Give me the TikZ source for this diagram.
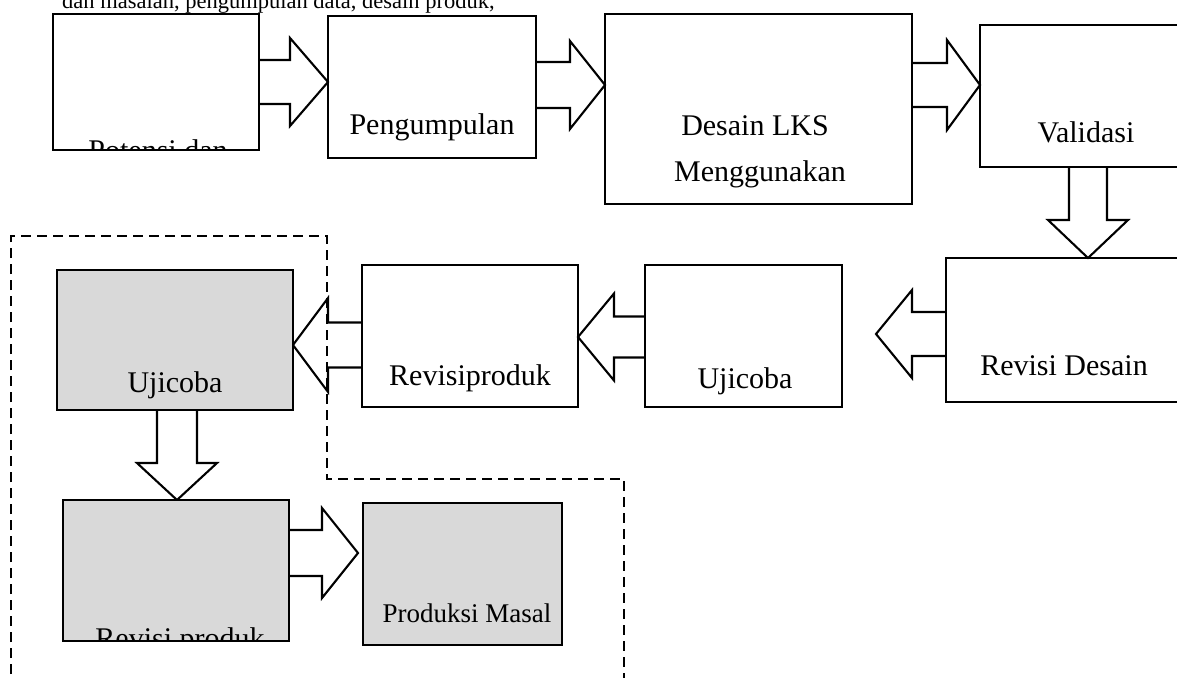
\documentclass[tikz,border=0pt]{standalone}
\usepackage{fontspec}
\setmainfont{Liberation Serif}
\usetikzlibrary{calc,backgrounds}
\definecolor{boxgrey}{HTML}{D9D9D9}
\newcommand\blockarrow[5]{% #1 start, #2 tip, #3 shaft half, #4 head half, #5 head length
  \coordinate (hb) at ($(#2)!#5pt!(#1)$);
  \draw[blk] ($(#1)!#3pt!90:(#2)$) -- ($(hb)!#3pt!90:(#2)$) -- ($(hb)!#4pt!90:(#2)$)
    -- (#2) -- ($(hb)!#4pt!-90:(#2)$) -- ($(hb)!#3pt!-90:(#2)$) -- ($(#1)!#3pt!-90:(#2)$);
}
\begin{document}
\begin{tikzpicture}[x=1pt,y=-1pt,
  box/.style={draw,line width=2.1pt,inner sep=0pt,outer sep=0pt,rectangle},
  gbox/.style={box,fill=boxgrey},
  lbl/.style={font=\fontsize{30}{36}\selectfont,anchor=base,inner sep=0pt},
  blk/.style={draw,fill=white,line width=2.1pt,line join=miter},
  frame/.style={draw,line width=1.6pt,dash pattern=on 10pt off 6pt}]
\useasboundingbox (0,0) rectangle (1177,677);
\clip (0,0) rectangle (1177,677);

% caption line (cut at top)
\node[anchor=base west,inner sep=0pt,font=\fontsize{22.5}{27}\selectfont] (cap) at (62,9) {dan masalah, pengumpulan data, desain produk,};

% boxes
\node[box,minimum width=206pt,minimum height=136pt] (b1) at (156,82) {};
\begin{scope}
  \clip ($(b1.south west)+(1,-1.2)$) rectangle ($(b1.north east)+(-1,1)$);
  \node[lbl] (t1) at (158,160) {Potensi dan};
\end{scope}
\node[box,minimum width=206pt,minimum height=136pt] at (156,82) {};

\node[box,minimum width=208pt,minimum height=142pt] (b2) at (432,87) {};
\node[lbl] (t2) at (432,134) {Pengumpulan};

\node[box,minimum width=307pt,minimum height=190pt] (b3) at (758.5,109) {};
\node[lbl] (t3a) at (755,135) {Desain LKS};
\node[lbl] (t3b) at (760,181) {Menggunakan};

\node[box,minimum width=220pt,minimum height=142pt] (b4) at (1090,96) {};
\node[lbl] (t4) at (1086,142) {Validasi};

\node[box,minimum width=254pt,minimum height=144pt] (b5) at (1073,330) {};
\node[lbl] (t5) at (1064,375) {Revisi Desain};

\node[box,minimum width=197pt,minimum height=142pt] (b6) at (743.5,336) {};
\node[lbl] (t6) at (745,388) {Ujicoba};

\node[box,minimum width=216pt,minimum height=142pt] (b7) at (470,336) {};
\node[lbl] (t7) at (470,385) {Revisiproduk};

\node[gbox,minimum width=236pt,minimum height=140pt] (b8) at (175,340) {};
\node[lbl] (t8) at (175,392) {Ujicoba};

\node[gbox,minimum width=226pt,minimum height=141pt] (b9) at (176,570.5) {};
\begin{scope}
  \clip ($(b9.south west)+(1,-1.2)$) rectangle ($(b9.north east)+(-1,1)$);
  \node[lbl] (t9) at (180,648) {Revisi produk};
\end{scope}
\node[box,minimum width=226pt,minimum height=141pt] at (176,570.5) {};

\node[gbox,minimum width=199pt,minimum height=142pt] (b10) at (462.5,574) {};
\node[lbl,font=\fontsize{27}{32}\selectfont] (t10) at (467,622) {Produksi Masal};

% block arrows (behind the boxes)
\begin{pgfonlayer}{background}
\coordinate (a1s) at (b1.east |- 0,82);  \coordinate (a1e) at (b2.west |- 0,82);
\blockarrow{a1s}{a1e}{22}{44}{38}
\coordinate (a2s) at (b2.east |- 0,85);  \coordinate (a2e) at (b3.west |- 0,85);
\blockarrow{a2s}{a2e}{23}{44}{35}
\coordinate (a3s) at (b3.east |- 0,85);  \coordinate (a3e) at (b4.west |- 0,85);
\blockarrow{a3s}{a3e}{22}{45}{33}
\coordinate (a4s) at (b4.south -| 1088,0);  \coordinate (a4e) at (b5.north -| 1088,0);
\blockarrow{a4s}{a4e}{19}{40}{38}
\coordinate (a5s) at (b5.west |- 0,334);  \coordinate (a5e) at ($(b6.east |- 0,334)+(34,0)$);
\blockarrow{a5s}{a5e}{22}{44}{36}
\coordinate (a6s) at (b6.west |- 0,337);  \coordinate (a6e) at (b7.east |- 0,337);
\blockarrow{a6s}{a6e}{20.5}{43.5}{36}
\coordinate (a7s) at (b7.west |- 0,345);  \coordinate (a7e) at (b8.east |- 0,345);
\blockarrow{a7s}{a7e}{22.5}{47}{35}
\coordinate (a8s) at (b8.south -| 177,0);  \coordinate (a8e) at (b9.north -| 177,0);
\blockarrow{a8s}{a8e}{20}{40}{37}
\coordinate (a9s) at (b9.east |- 0,553);  \coordinate (a9e) at ($(b10.west |- 0,553)+(-5,0)$);
\blockarrow{a9s}{a9e}{23}{45}{36}
\end{pgfonlayer}

% dashed frame
\coordinate (f1) at (11,690);
\coordinate (f2) at (11,236);
\coordinate (f3) at (327,236);
\coordinate (f4) at (327,479);
\coordinate (f5) at (624,479);
\coordinate (f6) at (624,690);
\draw[frame] (f1) -- (f2) -- (f3) -- (f4) -- (f5) -- (f6);
\end{tikzpicture}
\end{document}
